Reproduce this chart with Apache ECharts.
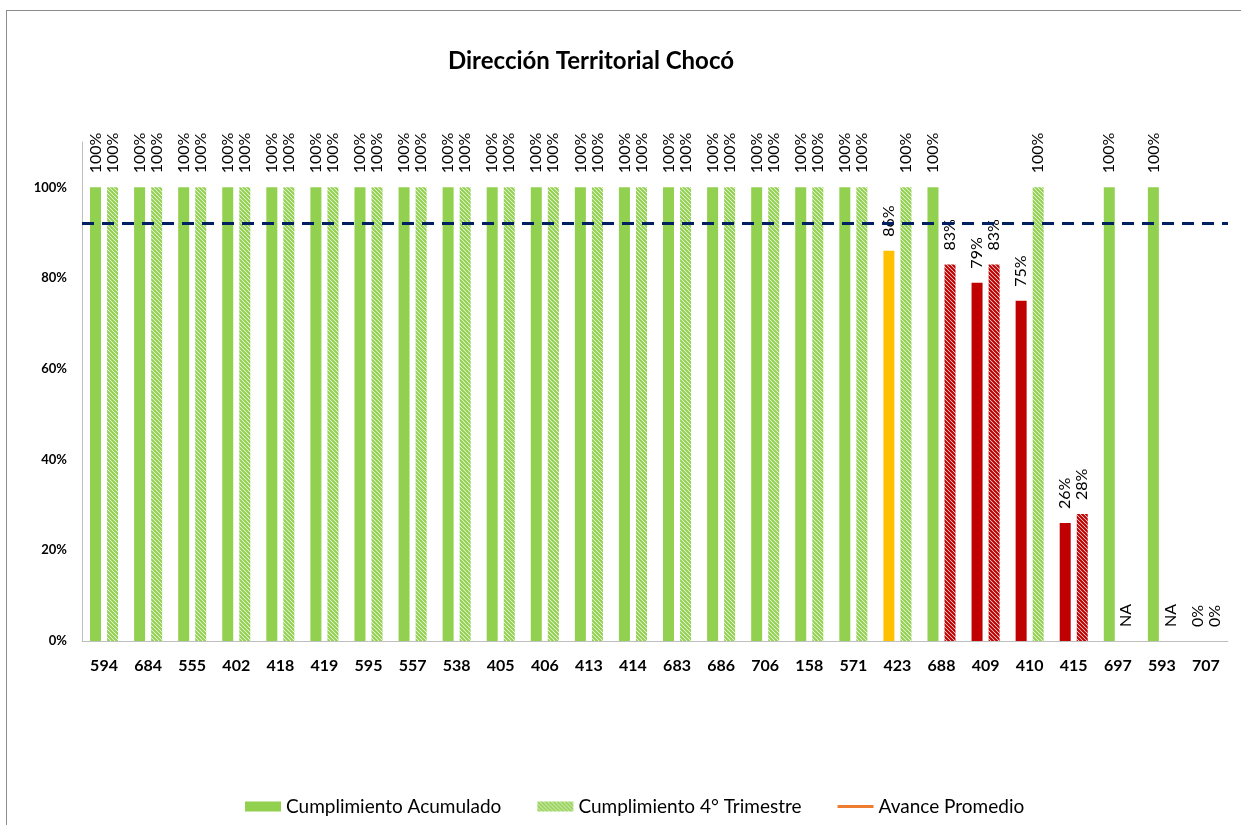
<!DOCTYPE html>
<html>
<head>
<meta charset="utf-8">
<script src="https://cdn.jsdelivr.net/npm/echarts@6/dist/echarts.min.js"></script>
<style>
  html, body { margin: 0; padding: 0; background: #fff; overflow: hidden; }
  #frame { position: absolute; left: 6px; top: 10px; width: 1300px; height: 900px; border: 1px solid #8c8c8c; }
  #chart { position: absolute; left: 0; top: 0; width: 1241px; height: 825px; }
</style>
</head>
<body>
<div id="frame"></div>
<div id="chart"></div>
<script>
const categories = ["594", "684", "555", "402", "418", "419", "595", "557", "538", "405", "406", "413", "414",
  "683", "686", "706", "158", "571", "423", "688", "409", "410", "415", "697", "593", "707"];
// cumplimiento acumulado
const acumulado = [1, 1, 1, 1, 1, 1, 1, 1, 1, 1, 1, 1, 1, 1, 1, 1, 1, 1,
  0.86, 1, 0.79, 0.75, 0.26, 1, 1, 0];
// cumplimiento 4° trimestre (null = NA)
const trimestre = [1, 1, 1, 1, 1, 1, 1, 1, 1, 1, 1, 1, 1, 1, 1, 1, 1, 1,
  1, 0.83, 0.83, 1, 0.28, null, null, 0];
const avancePromedio = 0.92;
const yTicks = [0, 0.2, 0.4, 0.6, 0.8, 1.0];

const GREEN = "#92D050", RED = "#C00000", ORANGE = "#FFC000";
const FONT = "Lato";

function hatch(color) {
  const c = document.createElement("canvas");
  c.width = 4; c.height = 4;
  const ctx = c.getContext("2d");
  ctx.fillStyle = "#fff";
  ctx.fillRect(0, 0, 4, 4);
  ctx.strokeStyle = color;
  ctx.lineWidth = 2.2;
  ctx.beginPath();
  ctx.moveTo(-1, -1); ctx.lineTo(5, 5);
  ctx.moveTo(-1, 3); ctx.lineTo(1, 5);
  ctx.moveTo(3, -1); ctx.lineTo(5, 1);
  ctx.stroke();
  return { image: c, repetition: "repeat" };
}

function solidColor(v) {
  if (v >= 0.95) return GREEN;
  if (v >= 0.85) return ORANGE;
  return RED;
}
function hatchColor(v) {
  return v >= 0.95 ? hatch(GREEN) : hatch(RED);
}

const pct = v => Math.round(v * 100) + "%";

const valueLabel = {
  show: true,
  position: "top",
  rotate: 90,
  align: "left",
  verticalAlign: "middle",
  distance: 14,
  fontFamily: FONT,
  fontSize: 16,
  color: "#000",
};

const chart = echarts.init(document.getElementById("chart"));
chart.setOption({
  animation: false,
  title: {
    text: "Dirección Territorial Chocó",
    left: 586,
    textAlign: "center",
    top: 44,
    textStyle: { fontFamily: FONT, fontSize: 24, fontWeight: "bold", color: "#000" },
  },
  legend: {
    left: 240,
    top: 792,
    itemWidth: 36,
    itemHeight: 10,
    itemGap: 36,
    textStyle: { fontFamily: FONT, fontSize: 19, color: "#000" },
    data: [
      { name: "Cumplimiento Acumulado", icon: "rect", itemStyle: { color: GREEN } },
      { name: "Cumplimiento 4° Trimestre", icon: "rect", itemStyle: { color: hatch(GREEN) } },
      { name: "Avance Promedio", icon: "path://M0,0L36,0L36,3L0,3Z", itemStyle: { color: "#ED7D31" } },
    ],
  },
  grid: { left: 82, right: 13, top: 142, bottom: 184 },
  xAxis: {
    type: "category",
    data: categories,
    axisLine: { lineStyle: { color: "#BFBFBF", width: 1 } },
    axisTick: { show: false },
    axisLabel: { fontFamily: FONT, fontSize: 16, fontWeight: "bold", color: "#000", margin: 17 },
  },
  yAxis: {
    type: "value",
    min: 0,
    max: 1.1,
    interval: 0.2,
    axisLine: { show: true, lineStyle: { color: "#BFBFBF", width: 1 } },
    axisTick: { show: false },
    splitLine: { show: false },
    axisLabel: {
      showMaxLabel: false,
      fontFamily: FONT, fontSize: 13, fontWeight: "bold", color: "#000", margin: 15,
      formatter: v => yTicks.some(t => Math.abs(t - v) < 1e-6) ? pct(v) : "",
    },
  },
  series: [
    {
      name: "Cumplimiento Acumulado",
      type: "bar",
      barWidth: 11,
      barGap: "55%",
      data: acumulado.map(v => ({ value: v, itemStyle: { color: solidColor(v) } })),
      label: Object.assign({}, valueLabel, { formatter: p => pct(p.value) }),
    },
    {
      name: "Cumplimiento 4° Trimestre",
      type: "bar",
      barWidth: 11,
      data: trimestre.map(v => v === null
        ? { value: 0, label: { formatter: "NA" }, itemStyle: { color: hatch(GREEN) } }
        : { value: v, itemStyle: { color: hatchColor(v) } }),
      label: Object.assign({}, valueLabel, { formatter: p => pct(p.value) }),
    },
    {
      name: "Avance Promedio",
      type: "line",
      symbol: "none",
      z: 5,
      itemStyle: { color: "#ED7D31" },
      lineStyle: { color: "#ED7D31", width: 2.5 },
      data: [],
      markLine: {
        silent: true,
        symbol: "none",
        label: { show: false },
        lineStyle: { color: "#002060", width: 3, type: [12, 8] },
        data: [{ yAxis: avancePromedio }],
      },
    },
  ],
});
</script>
</body>
</html>
